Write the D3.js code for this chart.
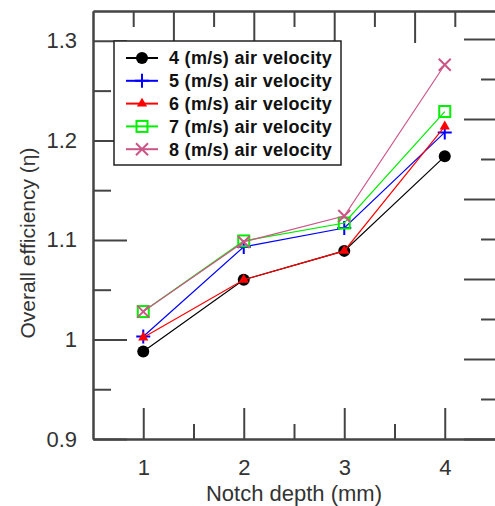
<!DOCTYPE html>
<html>
<head>
<meta charset="utf-8">
<script src="https://cdn.jsdelivr.net/npm/d3@7"></script>
<style>
    body { margin: 0; background: #fff; }
    text { font-family: Arial, "Liberation Sans", sans-serif; }
</style>
</head>
<body>
<script>

var notchDepth = [1, 2, 3, 4];
var v4 = [0.988, 1.060, 1.089, 1.184];
var v5 = [1.003, 1.093, 1.112, 1.208];
var v6 = [1.002, 1.060, 1.089, 1.214];
var v7 = [1.028, 1.099, 1.117, 1.229];
var v8 = [1.028, 1.098, 1.124, 1.276];
var seriesNames = ["4 (m/s) air velocity", "5 (m/s) air velocity", "6 (m/s) air velocity",
                   "7 (m/s) air velocity", "8 (m/s) air velocity"];
var yTicks = [0.9, 1, 1.1, 1.2, 1.3];
var yMinor = [0.95, 1.05, 1.15, 1.25];
var xMinor = [1.5, 2.5, 3.5];

var width = 495, height = 506;
// note: "top" is taken by window.top, so plot edges get their own names
var plotLeft = 93, plotRight = 495, plotTop = 11, plotBottom = 439;

var svg = d3.select("body").append("svg")
    .attr("width", width)
    .attr("height", height);

var x = d3.scaleLinear().domain([0.5, 4.5]).range([plotLeft, plotRight]);
var y = d3.scaleLinear().domain([0.9, 1.33]).range([plotBottom, plotTop]);
// the top and right frame carry their own unlabelled scales
var xTop = d3.scaleLinear().domain([0, 5]).range([plotLeft, plotRight]);
var yRight = d3.scaleLinear().domain([0, 5.35]).range([plotBottom, plotTop]);

var axisColor = "#444";

function styleAxis(g) {
    g.selectAll("path, line").attr("stroke", axisColor).attr("stroke-width", 2);
    g.selectAll("text").attr("fill", "#333").style("font-size", "22px")
        .style("font-family", "Arial, 'Liberation Sans', sans-serif");
}

// bottom axis, major + minor
svg.append("g")
    .attr("transform", "translate(0," + plotBottom + ")")
    .call(d3.axisBottom(x).tickValues(notchDepth).tickFormat(d3.format("d"))
        .tickSizeInner(-31).tickSizeOuter(0).tickPadding(20))
    .call(styleAxis);
svg.append("g")
    .attr("transform", "translate(0," + plotBottom + ")")
    .call(d3.axisBottom(x).tickValues(xMinor).tickFormat("")
        .tickSizeInner(-15).tickSizeOuter(0))
    .call(styleAxis);

// left axis, major + minor
svg.append("g")
    .attr("transform", "translate(" + plotLeft + ",0)")
    .call(d3.axisLeft(y).tickValues(yTicks).tickFormat(d3.format("~g"))
        .tickSizeInner(-34).tickSizeOuter(0).tickPadding(16))
    .call(styleAxis);
svg.append("g")
    .attr("transform", "translate(" + plotLeft + ",0)")
    .call(d3.axisLeft(y).tickValues(yMinor).tickFormat("")
        .tickSizeInner(-18).tickSizeOuter(0))
    .call(styleAxis);

// top axis
svg.append("g")
    .attr("transform", "translate(0," + plotTop + ")")
    .call(d3.axisTop(xTop).tickValues([1, 2, 3, 4]).tickFormat("")
        .tickSizeInner(-32).tickSizeOuter(0))
    .call(styleAxis);
svg.append("g")
    .attr("transform", "translate(0," + plotTop + ")")
    .call(d3.axisTop(xTop).tickValues([0.5, 1.5, 2.5, 3.5, 4.5]).tickFormat("")
        .tickSizeInner(-16).tickSizeOuter(0))
    .call(styleAxis);

// right axis (its spine sits just past the picture edge)
svg.append("g")
    .attr("transform", "translate(" + (plotRight + 1) + ",0)")
    .call(d3.axisRight(yRight).tickValues([0, 1, 2, 3, 4, 5]).tickFormat("")
        .tickSizeInner(-32).tickSizeOuter(0))
    .call(styleAxis);
svg.append("g")
    .attr("transform", "translate(" + (plotRight + 1) + ",0)")
    .call(d3.axisRight(yRight).tickValues([0.5, 1.5, 2.5, 3.5, 4.5]).tickFormat("")
        .tickSizeInner(-15).tickSizeOuter(0))
    .call(styleAxis);

// axis titles
svg.append("text")
    .attr("x", (plotLeft + plotRight) / 2)
    .attr("y", 501)
    .attr("text-anchor", "middle")
    .attr("fill", "#333")
    .style("font-size", "22px")
    .text("Notch depth (mm)");

svg.append("text")
    .attr("transform", "translate(35," + 243 + ") rotate(-90)")
    .attr("text-anchor", "middle")
    .attr("fill", "#333")
    .style("font-size", "21px")
    .text("Overall efficiency (η)");

// series
var series = [
    { name: seriesNames[0], values: v4, color: "#000000", marker: "circle" },
    { name: seriesNames[1], values: v5, color: "#0000ff", marker: "plus" },
    { name: seriesNames[2], values: v6, color: "#ff0000", marker: "triangle" },
    { name: seriesNames[3], values: v7, color: "#00ee00", marker: "square" },
    { name: seriesNames[4], values: v8, color: "#cc5588", marker: "cross" }
];

var line = d3.line()
    .x(function(d, i) { return x(notchDepth[i]); })
    .y(function(d) { return y(d); });

function drawMarker(g, s, cx, cy) {
    if (s.marker == "circle") {
        g.append("circle").attr("cx", cx).attr("cy", cy).attr("r", 6).attr("fill", s.color);
    } else if (s.marker == "plus") {
        g.append("path").attr("d", "M" + (cx - 7) + "," + cy + "h14M" + cx + "," + (cy - 7) + "v14")
            .attr("stroke", s.color).attr("stroke-width", 2).attr("fill", "none");
    } else if (s.marker == "triangle") {
        g.append("path").attr("d", d3.symbol(d3.symbolTriangle, 45)())
            .attr("transform", "translate(" + cx + "," + cy + ")")
            .attr("fill", s.color);
    } else if (s.marker == "square") {
        g.append("rect").attr("x", cx - 5.5).attr("y", cy - 5.5).attr("width", 11).attr("height", 11)
            .attr("fill", "none").attr("stroke", s.color).attr("stroke-width", 2);
    } else {
        g.append("path").attr("d", "M" + (cx - 6) + "," + (cy - 6) + "l12,12M" + (cx - 6) + "," + (cy + 6) + "l12,-12")
            .attr("stroke", s.color).attr("stroke-width", 2).attr("fill", "none");
    }
}

series.forEach(function(s) {
    var g = svg.append("g");
    g.append("path")
        .attr("d", line(s.values))
        .attr("stroke", s.color)
        .attr("stroke-width", 1.2)
        .attr("fill", "none");
    s.values.forEach(function(v, i) {
        drawMarker(g, s, x(notchDepth[i]), y(v));
    });
});

// legend
var legend = svg.append("g");
legend.append("rect")
    .attr("x", 114).attr("y", 41)
    .attr("width", 227).attr("height", 124)
    .attr("fill", "#fff")
    .attr("stroke", "#222")
    .attr("stroke-width", 1.5);

series.forEach(function(s, i) {
    var ly = 58 + i * 22.8;
    legend.append("line")
        .attr("x1", 126).attr("x2", 158)
        .attr("y1", ly).attr("y2", ly)
        .attr("stroke", s.color)
        .attr("stroke-width", 2);
    drawMarker(legend, s, 142, ly);
    legend.append("text")
        .attr("x", 169).attr("y", ly)
        .attr("dy", "0.35em")
        .attr("fill", "#111")
        .style("font-size", "18px")
        .style("font-weight", "bold")
        .style("letter-spacing", "0.3px")
        .text(s.name);
});

</script>
</body>
</html>
